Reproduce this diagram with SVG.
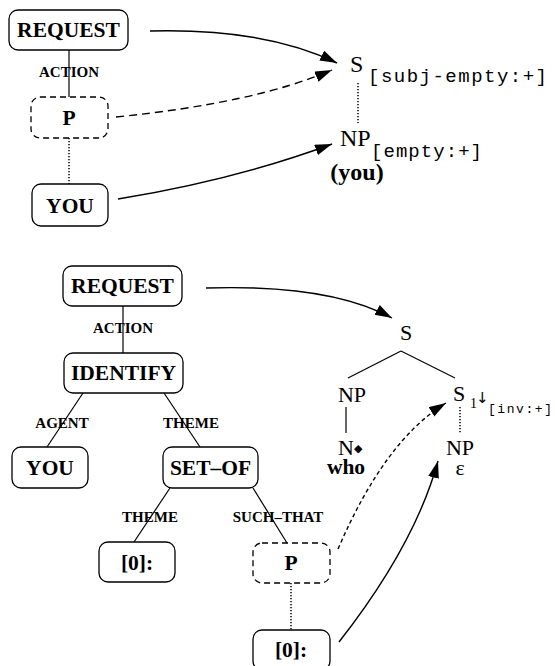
<svg xmlns="http://www.w3.org/2000/svg" width="555" height="666" viewBox="0 0 555 666">
  <style>
    .box { fill: #fff; stroke: #000; stroke-width: 1.3; }
    .dbox { fill: #fff; stroke: #000; stroke-width: 1.3; stroke-dasharray: 6 4; }
    .lbl { font-family: "Liberation Serif", "Times New Roman", serif; font-weight: bold; font-size: 21.5px; text-anchor: middle; fill: #000; }
    .rel { font-family: "Liberation Serif", "Times New Roman", serif; font-weight: bold; font-size: 15px; text-anchor: middle; fill: #000; }
    .cat { font-family: "Liberation Serif", "Times New Roman", serif; font-size: 22px; fill: #000; }
    .mono { font-family: "Liberation Mono", "Courier New", monospace; fill: #000; }
    .line { fill: none; stroke: #000; stroke-width: 1.2; }
    .dot { fill: none; stroke: #000; stroke-width: 1.5; stroke-dasharray: 1.3 1.7; }
    .arrow { fill: none; stroke: #000; stroke-width: 1.4; marker-end: url(#head); }
  </style>
  <defs>
    <marker id="head" markerUnits="userSpaceOnUse" markerWidth="18" markerHeight="12" refX="17" refY="5.5" orient="auto">
      <path d="M0,0 L17,5.5 L0,11 z" fill="#000"/>
    </marker>
  </defs>

  <!-- tree edges and mapping arrows -->
  <g id="connectors">
    <!-- upper semantic graph -->
    <line class="line" x1="69" y1="50" x2="69" y2="97"/>
    <line class="dot" x1="69" y1="138" x2="69" y2="184"/>
    <!-- upper syntactic tree -->
    <line class="dot" x1="358" y1="83" x2="358" y2="123"/>
    <!-- upper arrows -->
    <path class="arrow" d="M150,31 Q265,28 337,63"/>
    <path class="arrow" d="M116,117 Q255,103 332,70" style="stroke-dasharray: 8 5"/>
    <path class="arrow" d="M118,199 Q235,180 332,144"/>

    <!-- lower semantic graph -->
    <line class="line" x1="123" y1="306" x2="123" y2="353"/>
    <line class="line" x1="83" y1="393" x2="47" y2="447"/>
    <line class="line" x1="164" y1="393" x2="200" y2="447"/>
    <line class="line" x1="170" y1="488" x2="134" y2="542"/>
    <line class="line" x1="253" y1="488" x2="287" y2="543"/>
    <line class="dot" x1="291" y1="583" x2="291" y2="630"/>
    <!-- lower syntactic tree -->
    <line class="line" x1="401" y1="351" x2="348" y2="378"/>
    <line class="line" x1="401" y1="351" x2="455" y2="378"/>
    <line class="line" x1="346" y1="407" x2="346" y2="433"/>
    <line class="dot" x1="460" y1="407" x2="460" y2="433"/>
    <!-- lower arrows -->
    <path class="arrow" d="M206,288 Q330,284 392,318"/>
    <path class="arrow" d="M338,549 Q385,440 446,403" style="stroke-dasharray: 4 3"/>
    <path class="arrow" d="M339,642 Q415,545 438,461"/>
  </g>

  <!-- upper semantic graph -->
  <g id="request1">
    <rect class="box" x="9" y="10" width="119" height="40" rx="9"/>
    <text class="lbl" x="68.5" y="37">REQUEST</text>
  </g>
  <text class="rel" x="69" y="77">ACTION</text>
  <g id="p1">
    <rect class="dbox" x="31" y="97" width="77" height="41" rx="9"/>
    <text class="lbl" x="69" y="125">P</text>
  </g>
  <g id="you1">
    <rect class="box" x="32" y="184" width="76" height="42" rx="9"/>
    <text class="lbl" x="70" y="213">YOU</text>
  </g>

  <!-- upper syntactic tree -->
  <g id="s1">
    <text class="cat" x="350" y="72" style="font-size:24px">S</text>
    <text class="mono" x="368" y="82" font-size="19" textLength="179" lengthAdjust="spacing">[subj-empty:+]</text>
  </g>
  <g id="np1">
    <text class="cat" x="340" y="146" style="font-size:24px">NP</text>
    <text class="mono" x="371" y="157" font-size="19" textLength="111" lengthAdjust="spacing">[empty:+]</text>
    <text class="lbl" x="357" y="180" style="font-size:24px">(you)</text>
  </g>

  <!-- lower semantic graph -->
  <g id="request2">
    <rect class="box" x="63" y="266" width="119" height="40" rx="9"/>
    <text class="lbl" x="122.5" y="293">REQUEST</text>
  </g>
  <text class="rel" x="123" y="333">ACTION</text>
  <g id="identify">
    <rect class="box" x="64" y="353" width="119" height="40" rx="9"/>
    <text class="lbl" x="123.5" y="380">IDENTIFY</text>
  </g>
  <text class="rel" x="62" y="428">AGENT</text>
  <text class="rel" x="191" y="428">THEME</text>
  <g id="you2">
    <rect class="box" x="12" y="447" width="76" height="41" rx="9"/>
    <text class="lbl" x="50" y="475">YOU</text>
  </g>
  <g id="setof">
    <rect class="box" x="163" y="447" width="95" height="41" rx="9"/>
    <text class="lbl" x="210.5" y="475">SET–OF</text>
  </g>
  <text class="rel" x="150" y="522">THEME</text>
  <text class="rel" x="278" y="522">SUCH–THAT</text>
  <g id="zero1">
    <rect class="box" x="99" y="542" width="76" height="40" rx="9"/>
    <text class="lbl" x="137" y="570">[0]:</text>
  </g>
  <g id="p2">
    <rect class="dbox" x="253" y="543" width="77" height="40" rx="9"/>
    <text class="lbl" x="291" y="570">P</text>
  </g>
  <g id="zero2">
    <rect class="box" x="253" y="630" width="77" height="40" rx="9"/>
    <text class="lbl" x="291" y="657">[0]:</text>
  </g>

  <!-- lower syntactic tree -->
  <g id="s2">
    <text class="cat" x="406" y="340" text-anchor="middle">S</text>
  </g>
  <g id="np2">
    <text class="cat" x="352" y="402" text-anchor="middle">NP</text>
  </g>
  <g id="n-who">
    <text class="cat" x="338" y="455">N<tspan font-family="DejaVu Sans, sans-serif" font-size="11" dy="-3">◆</tspan></text>
    <text class="lbl" x="346" y="474">who</text>
  </g>
  <g id="s3">
    <text class="cat" x="453" y="401">S</text>
    <text class="cat" x="470" y="408" style="font-size:14px">1</text>
    <text x="476" y="403" font-family="DejaVu Sans, sans-serif" font-size="15" fill="#000">↓</text>
    <text class="mono" x="488" y="413" font-size="13" textLength="64" lengthAdjust="spacing">[inv:+]</text>
  </g>
  <g id="np3">
    <text class="cat" x="460" y="455" text-anchor="middle">NP</text>
    <text class="cat" x="460" y="475" text-anchor="middle">ε</text>
  </g>
</svg>
